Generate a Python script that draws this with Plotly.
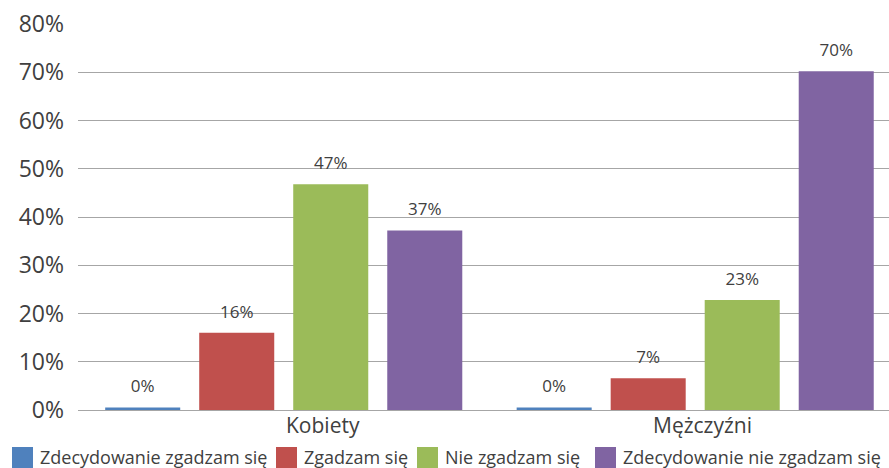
import plotly.graph_objects as go

categories = ['Kobiety', 'Mężczyźni']
series_names = ['Zdecydowanie zgadzam się', 'Zgadzam się', 'Nie zgadzam się',
                'Zdecydowanie nie zgadzam się']
colors = ['#4F81BD', '#C0504D', '#9BBB59', '#8064A2']

# bar heights (percent); labels are the rounded values
values = [
    [0.5, 0.5],
    [16.0, 6.6],
    [46.8, 22.8],
    [37.2, 70.2],
]
labels = [
    ['0%', '0%'],
    ['16%', '7%'],
    ['47%', '23%'],
    ['37%', '70%'],
]
y_ticks = [0, 10, 20, 30, 40, 50, 60, 70, 80]
y_tick_text = [f'{t}%' for t in y_ticks]

font_family = 'Open Sans, DejaVu Sans, sans-serif'
text_color = '#404040'

# plot area in pixels, used to place the hand-made legend
W, H = 889, 468
L, T, B = 78, 24, 58
plot_w = W - L
plot_h = H - T - B


def px_x(px):
    return (px - L) / plot_w


def px_y(py):
    return (H - B - py) / plot_h


fig = go.Figure()
for i, name in enumerate(series_names):
    fig.add_trace(go.Bar(x=categories, y=values[i], name=name, offsetgroup=str(i),
                         marker=dict(color=colors[i], line=dict(width=0)),
                         showlegend=False))
# value labels sit above the bars, same offset groups as the bars
for i, name in enumerate(series_names):
    fig.add_trace(go.Scatter(x=categories, y=values[i], text=labels[i], offsetgroup=str(i),
                             mode='markers+text', textposition='top center',
                             marker=dict(size=16, opacity=0),
                             textfont=dict(size=17, color=text_color, family=font_family),
                             showlegend=False, hoverinfo='skip', cliponaxis=False))

# category labels (slightly shifted right, like the original)
cat_shift = [39, 7]
for c, s in zip(categories, cat_shift):
    fig.add_annotation(x=c, xref='x', y=0, yref='paper', yshift=1, xshift=s,
                       text=c, showarrow=False, yanchor='top', xanchor='center',
                       font=dict(size=21, color=text_color, family=font_family))

# legend row along the bottom edge
legend_square_px = [12, 276, 417, 595]
for i, name in enumerate(series_names):
    x0 = legend_square_px[i]
    fig.add_shape(type='rect', xref='paper', yref='paper',
                  x0=px_x(x0), x1=px_x(x0 + 21), y0=px_y(447), y1=px_y(468),
                  fillcolor=colors[i], line=dict(width=0))
    fig.add_annotation(x=px_x(x0 + 26), xref='paper', y=px_y(457), yref='paper',
                       text=name, showarrow=False, xanchor='left', yanchor='middle',
                       font=dict(size=18, color=text_color, family=font_family))

fig.update_layout(
    width=W, height=H, autosize=False,
    margin=dict(l=L, r=0, t=T, b=B, autoexpand=False),
    barmode='group', bargap=0.086, bargroupgap=0.202,
    scattermode='group', scattergap=0.086,
    plot_bgcolor='white', paper_bgcolor='white',
    font=dict(family=font_family, color=text_color),
    showlegend=False,
)
fig.update_xaxes(range=[-0.5, 1.471], showline=False, showgrid=False, ticks='',
                 showticklabels=False)
fig.update_yaxes(range=[0, 80], tickvals=y_ticks, ticktext=y_tick_text,
                 showgrid=True, gridcolor='#A6A6A6', gridwidth=1,
                 zeroline=True, zerolinecolor='#A6A6A6', zerolinewidth=1,
                 ticks='', ticklabelstandoff=13,
                 tickfont=dict(size=23, color=text_color))

# drop the default page margin so the figure fills the window exactly
fig.write_html('out.html', config={'displayModeBar': False},
               post_script="document.body.style.margin = '0';")
